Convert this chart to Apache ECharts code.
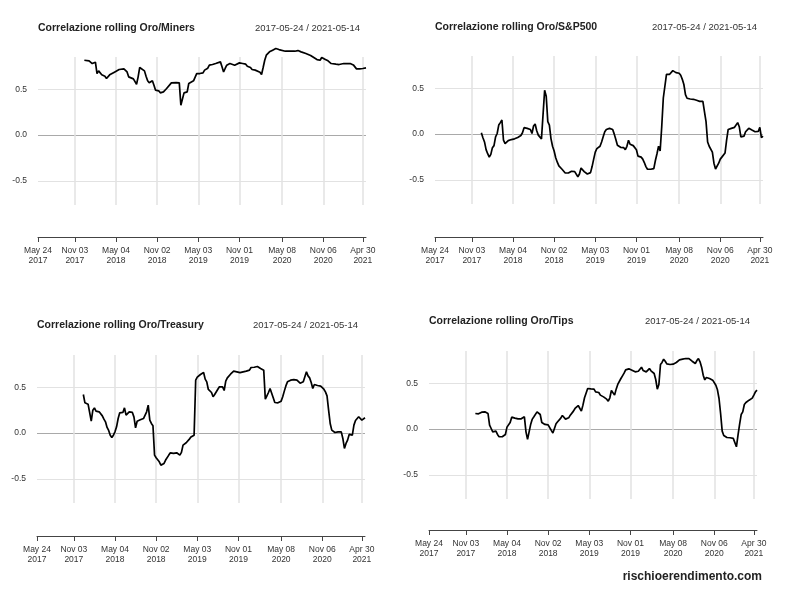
<!DOCTYPE html>
<html><head><meta charset="utf-8">
<script src="https://cdn.jsdelivr.net/npm/echarts@6/dist/echarts.min.js"></script>
<style>html,body{margin:0;padding:0;background:#fff}#c{width:800px;height:600px}</style>
</head><body><div id="c"></div>
<script>
// ---------- data ----------
const rangeStart = '2017-05-24';
const rangeEnd = '2021-05-14';
const firstFriday = '2017-05-26';           // week 0 of the weekly series
const dateRangeText = '2017-05-24 / 2021-05-14';
const tickDates = ['2017-05-24','2017-11-03','2018-05-04','2018-11-02','2019-05-03','2019-11-01','2020-05-08','2020-11-06','2021-04-30'];
const tickLabels = ['May 24\n2017','Nov 03\n2017','May 04\n2018','Nov 02\n2018','May 03\n2019','Nov 01\n2019','May 08\n2020','Nov 06\n2020','Apr 30\n2021'];
const yTicks = [-0.5, 0, 0.5];
const yTickLabels = ['-0.5', '0.0', '0.5'];
const panelTitles = ['Correlazione rolling Oro/Miners','Correlazione rolling Oro/S&P500','Correlazione rolling Oro/Treasury','Correlazione rolling Oro/Tips'];
const sourceText = 'rischioerendimento.com';

// Oro/Miners: week numbers (weeks after 2017-05-26) and values
const minersWeeks = [29,32,34,35,36,37,38,39,40,42,43,45,46,48,49,51,52,54,56,57,
  58,60,62,63,64,65,67,68,69,70,72,73,74,76,77,79,81,82,84,85,
  87,88,89,90,91,92,94,95,96,98,100,101,102,104,105,107,108,110,111,112,
  113,115,116,117,118,119,121,122,124,125,127,129,131,132,134,135,137,138,140,141,
  142,143,144,146,148,150,152,153,156,159,162,164,166,169,172,174,176,178,179,181,
  183,185,188,190,191,193,195,197,199,201,203,205,206,207];
const minersValues = [0.815,0.808,0.779,0.772,0.793,0.670,0.699,0.678,0.656,0.641,
  0.616,0.656,0.663,0.685,0.688,0.714,0.732,0.721,0.688,0.634,
  0.616,0.612,0.554,0.634,0.736,0.725,0.699,0.641,0.591,0.569,
  0.591,0.543,0.489,0.482,0.460,0.471,0.507,0.525,0.569,0.576,
  0.572,0.580,0.569,0.326,0.308,0.460,0.471,0.562,0.580,0.591,
  0.670,0.688,0.670,0.678,0.707,0.728,0.761,0.768,0.772,0.779,
  0.761,0.797,0.743,0.688,0.725,0.761,0.779,0.772,0.761,0.779,
  0.786,0.779,0.772,0.750,0.736,0.714,0.707,0.707,0.685,0.659,
  0.736,0.815,0.870,0.906,0.924,0.942,0.931,0.924,0.913,0.913,
  0.913,0.920,0.906,0.888,0.866,0.844,0.822,0.815,0.844,0.826,
  0.808,0.779,0.772,0.768,0.757,0.779,0.779,0.779,0.764,0.721,
  0.721,0.725,0.743,0.732];

// weekly series, first value at week 29 (2017-12-15)
const weeklyFirstWeek = 29;
const sp500Values = [
  0.015,-0.04,-0.085,-0.169,-0.213,-0.25,-0.22,-0.147,-0.125,-0.029,
  0.007,0.099,0.125,0.154,-0.066,-0.103,-0.085,-0.07,-0.066,-0.059,
  -0.051,-0.051,-0.044,-0.037,-0.026,-0.015,0.015,0.07,0.066,0.063,
  0.063,0.051,0.007,0.088,0.11,0.037,-0.011,-0.029,-0.051,-0.055,
  0.478,0.412,0.136,0.099,-0.048,-0.132,-0.184,-0.257,-0.305,-0.346,
  -0.353,-0.382,-0.397,-0.423,-0.434,-0.423,-0.412,-0.404,-0.397,-0.408,
  -0.419,-0.463,-0.434,-0.368,-0.386,-0.408,-0.419,-0.434,-0.452,-0.419,
  -0.353,-0.272,-0.195,-0.158,-0.158,-0.132,-0.085,-0.029,0.026,0.051,
  0.063,0.063,0.066,0.051,0,-0.059,-0.121,-0.136,-0.143,-0.147,
  -0.147,-0.169,-0.132,-0.066,-0.11,-0.129,-0.125,-0.14,-0.169,-0.239,
  -0.25,-0.25,-0.272,-0.309,-0.353,-0.382,-0.397,-0.382,-0.379,-0.375,
  -0.287,-0.213,-0.132,-0.184,0.081,0.393,0.404,0.651,0.654,0.651,
  0.669,0.691,0.695,0.669,0.651,0.662,0.64,0.596,0.54,0.43,
  0.39,0.386,0.382,0.382,0.379,0.375,0.368,0.382,0.357,0.346,
  0.357,0.246,0.136,-0.085,-0.132,-0.147,-0.195,-0.316,-0.379,-0.36,
  -0.316,-0.272,-0.25,-0.232,-0.206,-0.066,0.051,0.044,0.063,0.051,
  0.074,0.088,0.125,0.081,-0.029,-0.037,-0.022,0.026,0.015,0.063,
  0.059,0.044,0.026,0.026,0.022,0.029,0.074,-0.037,-0.022];
const treasuryValues = [
  0.42,0.33,0.315,0.315,0.297,0.13,0.25,0.275,0.239,0.232,
  0.232,0.214,0.188,0.152,0.123,0.062,0.029,-0.022,-0.047,-0.022,
  0.014,0.069,0.159,0.221,0.225,0.225,0.275,0.196,0.214,0.232,
  0.25,0.225,0.174,0.058,0.13,0.141,0.145,0.159,0.159,0.178,
  0.232,0.304,0.141,0.105,0.08,-0.239,-0.268,-0.283,-0.312,-0.348,
  -0.355,-0.33,-0.293,-0.283,-0.239,-0.214,-0.232,-0.221,-0.228,-0.214,
  -0.232,-0.239,-0.21,-0.13,-0.112,-0.105,-0.109,-0.065,-0.043,-0.033,
  -0.022,0.576,0.609,0.594,0.638,0.638,0.659,0.587,0.558,0.475,
  0.486,0.442,0.395,0.42,0.424,0.478,0.504,0.522,0.504,0.464,
  0.565,0.601,0.601,0.641,0.659,0.674,0.667,0.667,0.674,0.659,
  0.663,0.667,0.649,0.674,0.692,0.685,0.714,0.717,0.717,0.732,
  0.725,0.714,0.703,0.696,0.685,0.37,0.406,0.442,0.486,0.493,
  0.384,0.333,0.322,0.33,0.322,0.348,0.395,0.457,0.514,0.558,
  0.572,0.576,0.58,0.583,0.58,0.576,0.565,0.543,0.529,0.558,
  0.565,0.667,0.623,0.601,0.551,0.486,0.529,0.511,0.518,0.518,
  0.511,0.5,0.478,0.449,0.406,0.25,0.105,0.033,0.014,0.007,
  0.018,0.014,0.022,0.014,-0.058,-0.167,-0.112,-0.076,-0.014,0.004,
  -0.022,0.087,0.138,0.159,0.178,0.178,0.141,0.159,0.167];
const tipsValues = [
  0.17,0.163,0.167,0.181,0.185,0.192,0.188,0.207,0.17,0.043,
  0.007,-0.029,-0.011,-0.022,-0.058,-0.083,-0.083,-0.083,-0.08,-0.058,
  0.022,0.025,0.072,0.13,0.12,0.12,0.123,0.112,0.116,0.112,
  0.127,0.134,-0.029,-0.112,-0.101,0.054,0.109,0.134,0.152,0.188,
  0.196,0.159,0.072,0.058,0.051,0.058,0.047,0.043,-0.014,-0.043,
  0.007,0.058,0.08,0.094,0.12,0.149,0.138,0.109,0.098,0.123,
  0.152,0.17,0.196,0.225,0.243,0.257,0.254,0.196,0.261,0.341,
  0.362,0.442,0.428,0.438,0.42,0.435,0.406,0.388,0.399,0.37,
  0.37,0.351,0.333,0.326,0.304,0.341,0.42,0.399,0.37,0.435,
  0.486,0.507,0.551,0.58,0.609,0.645,0.659,0.656,0.649,0.641,
  0.63,0.623,0.627,0.63,0.63,0.674,0.638,0.638,0.623,0.63,
  0.659,0.634,0.616,0.605,0.54,0.435,0.486,0.703,0.725,0.761,
  0.739,0.71,0.703,0.703,0.703,0.707,0.714,0.725,0.746,0.754,
  0.757,0.761,0.764,0.768,0.772,0.768,0.754,0.739,0.728,0.714,
  0.746,0.768,0.732,0.674,0.587,0.536,0.562,0.558,0.551,0.54,
  0.533,0.518,0.478,0.428,0.333,0.17,-0.022,-0.069,-0.083,-0.091,
  -0.091,-0.094,-0.101,-0.101,-0.087,-0.192,-0.065,0.051,0.159,0.188,
  0.268,0.29,0.304,0.315,0.333,0.337,0.37,0.406,0.424];

// ---------- build ----------
// x is expressed in days since rangeStart (value axis with custom ticks)
const DAY = 86400000;
const t0 = Date.parse(rangeStart);
const dayOf = d => (Date.parse(d) - t0) / DAY;
const fridayDay = dayOf(firstFriday);
const weekX = w => fridayDay + w * 7;
const tickX = tickDates.map(dayOf);
const xMax = dayOf(rangeEnd);
const seriesData = [
  minersWeeks.map((w, i) => [weekX(w), minersValues[i]]),
  sp500Values.map((v, i) => [weekX(weeklyFirstWeek + i), v]),
  treasuryValues.map((v, i) => [weekX(weeklyFirstWeek + i), v]),
  tipsValues.map((v, i) => [weekX(weeklyFirstWeek + i), v])
];

// layout (pixels)
const panels = [
  {left: 38,  top: 57,  offset: 32, titleY: 28,  dateRight: 440},
  {left: 435, top: 56,  offset: 33, titleY: 27,  dateRight: 43},
  {left: 37,  top: 355, offset: 33, titleY: 325, dateRight: 442},
  {left: 429, top: 351, offset: 31, titleY: 321, dateRight: 50}
];
const W = 328, H = 148;
const FONT = 'Liberation Sans, Arial, Helvetica, sans-serif';
// no vertical grid line at the first tick (start of range)
const vGridColors = tickX.map((_, i) => i === 0 ? 'rgba(0,0,0,0)' : '#e2e2e2');

const option = {
  animation: false,
  backgroundColor: '#fff',
  title: [],
  grid: [], xAxis: [], yAxis: [], series: []
};
panels.forEach((p, k) => {
  option.title.push({
    text: panelTitles[k], left: p.left, top: p.titleY - 6, padding: 0,
    textStyle: {fontFamily: FONT, fontSize: 10.5, fontWeight: 'bold', color: '#222', lineHeight: 12}
  });
  option.title.push({
    text: dateRangeText, right: p.dateRight, top: p.titleY - 6, padding: 0,
    textStyle: {fontFamily: FONT, fontSize: 9.5, fontWeight: 'normal', color: '#333', lineHeight: 12}
  });
  option.grid.push({left: p.left, top: p.top, width: W, height: H, containLabel: false});
  option.xAxis.push({
    type: 'value', gridIndex: k, min: 0, max: xMax,
    offset: p.offset,
    axisLine: {show: true, onZero: false, lineStyle: {color: '#444', width: 1}},
    axisTick: {show: true, customValues: tickX, length: 5, inside: false, lineStyle: {color: '#444', width: 1}},
    axisLabel: {
      customValues: tickX, margin: 9, fontFamily: FONT, fontSize: 8.5, lineHeight: 9.5, color: '#333',
      showMinLabel: true, showMaxLabel: true,
      formatter: v => { const i = tickX.indexOf(v); return i >= 0 ? tickLabels[i] : ''; }
    },
    splitLine: {show: true, lineStyle: {color: vGridColors, width: 1.5}}
  });
  option.yAxis.push({
    type: 'value', gridIndex: k, min: -0.76, max: 0.85,
    axisLine: {show: false},
    axisTick: {show: false, customValues: yTicks},
    axisLabel: {
      customValues: yTicks, margin: 11, fontFamily: FONT, fontSize: 8.5, color: '#333',
      formatter: v => { const i = yTicks.indexOf(v); return i >= 0 ? yTickLabels[i] : ''; }
    },
    splitLine: {show: true, lineStyle: {color: ['#e2e2e2', '#a9a9a9', '#e2e2e2'], width: 1}}
  });
  option.series.push({
    type: 'line', xAxisIndex: k, yAxisIndex: k, data: seriesData[k],
    showSymbol: false, symbol: 'none', clip: false, z: 3,
    lineStyle: {color: '#000', width: 1.7}
  });
});
option.title.push({
  text: sourceText, right: 38, top: 570, padding: 0,
  textStyle: {fontFamily: FONT, fontSize: 12, fontWeight: 'bold', color: '#222', lineHeight: 14}
});

const chart = echarts.init(document.getElementById('c'), null, {renderer: 'canvas'});
chart.setOption(option);
</script>
</body></html>
